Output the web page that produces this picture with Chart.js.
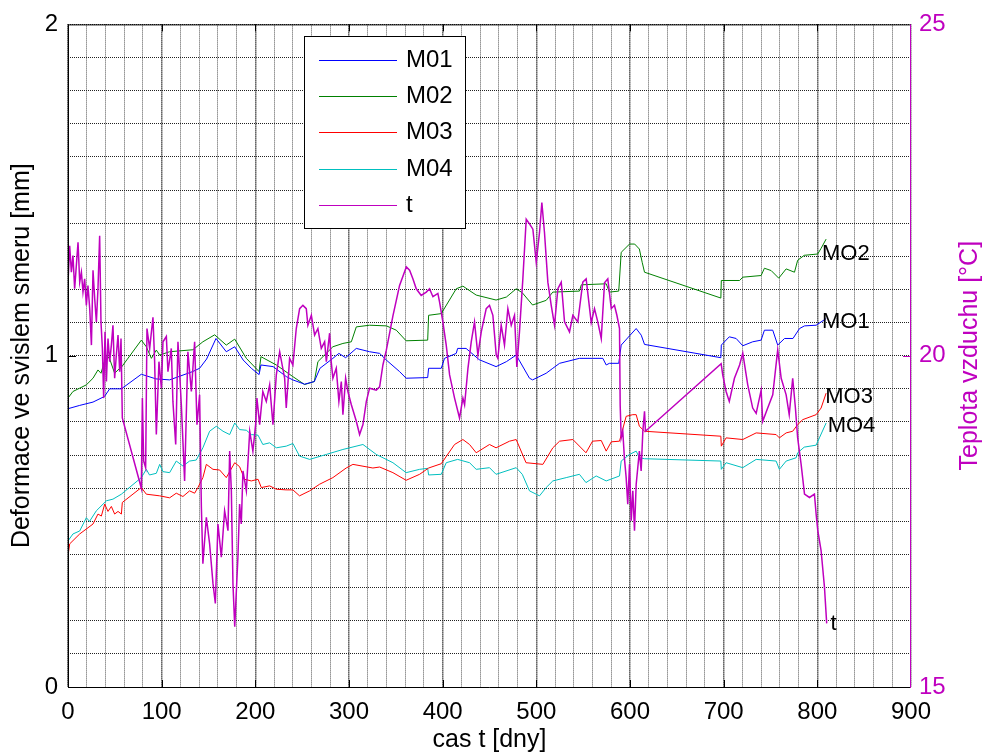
<!DOCTYPE html>
<html>
<head>
<meta charset="utf-8">
<script src="https://cdn.jsdelivr.net/npm/chart.js@4.4.0/dist/chart.umd.min.js"></script>
<style>
  html, body { margin: 0; padding: 0; background: #fff; }
  canvas { display: block; }
</style>
</head>
<body>
<canvas id="deformChart" width="987" height="753"></canvas>
<script>
// Deformace M01..M04 [mm], left axis
const m01Day = [0, 0, 12.5, 26.7, 39, 44.5, 57, 78.3, 94, 108.5, 133, 140.5, 148, 158, 169, 178, 187, 195.7, 204, 206, 219, 233, 240, 252.6, 263, 269, 282.8, 289.2, 296.4, 307.8, 322, 332.7, 339.8, 354, 361, 384, 385, 398.5, 402, 414.5, 416, 425, 439, 457, 468, 478.5, 492.7, 496, 510.5, 517.6, 524.8, 546, 560, 571, 574.6, 578, 588, 590.6, 599.5, 606.6, 612, 615.5, 697, 697.5, 706, 713.3, 720.4, 731, 740, 743.5, 752.4, 757.7, 765, 774, 781, 786.3, 798.7, 809.4];
const m01Val = [0, 0.84, 0.85, 0.86, 0.877, 0.9, 0.9, 0.944, 0.93, 0.927, 0.952, 0.962, 0.99, 1.052, 1.012, 1.027, 0.987, 0.962, 0.943, 0.972, 0.967, 0.937, 0.927, 0.914, 0.922, 0.962, 0.992, 1.007, 0.994, 1.022, 1.012, 1.007, 0.987, 0.952, 0.932, 0.934, 0.962, 0.962, 0.992, 1.007, 1.022, 1.022, 0.988, 0.967, 0.982, 1.002, 0.932, 0.927, 0.947, 0.962, 0.977, 0.992, 0.992, 0.992, 0.972, 0.977, 0.977, 1.032, 1.06, 1.082, 1.062, 1.034, 0.994, 1.032, 1.057, 1.052, 1.03, 1.042, 1.047, 1.077, 1.077, 1.032, 1.052, 1.052, 1.082, 1.09, 1.092, 1.112];

const m02Day = [0, 0, 5.3, 12.5, 19.6, 26.7, 32, 35.2, 41, 44.5, 49.8, 55.2, 57, 78.3, 83.6, 89, 94.3, 97.9, 108.5, 133.4, 144, 156.6, 169, 178, 190.4, 204, 206, 222.4, 240, 252.6, 263, 266.8, 282.8, 293.5, 302.5, 307.8, 322, 340, 350.5, 361, 384, 385, 398.5, 414.5, 421.6, 435.8, 457, 468, 478.5, 485, 496, 510.5, 517.6, 546, 548, 574.6, 578, 588, 590.6, 599.5, 605, 610, 613, 615.5, 697, 697.5, 717, 720.4, 740, 743.5, 750.7, 758.8, 766.7, 775.6, 779, 786, 800.4, 804, 809.4];
const m02Val = [0, 0.872, 0.892, 0.902, 0.912, 0.932, 0.957, 0.947, 1.002, 0.99, 0.947, 0.962, 0.965, 1.047, 1.027, 0.992, 1.017, 1.002, 1.012, 1.018, 1.042, 1.063, 1.032, 1.05, 0.992, 0.952, 0.997, 0.972, 0.937, 0.913, 0.922, 0.982, 1.027, 1.037, 1.042, 1.087, 1.092, 1.09, 1.077, 1.045, 1.047, 1.122, 1.127, 1.202, 1.21, 1.183, 1.168, 1.177, 1.202, 1.19, 1.153, 1.167, 1.192, 1.195, 1.214, 1.217, 1.192, 1.195, 1.312, 1.337, 1.337, 1.322, 1.282, 1.252, 1.174, 1.227, 1.227, 1.237, 1.242, 1.264, 1.257, 1.234, 1.262, 1.252, 1.288, 1.303, 1.307, 1.324, 1.352];

const m03Day = [0, 0, 1.8, 12.5, 26.7, 32, 35.6, 39.2, 42.7, 46.3, 49.8, 53.4, 57, 58, 78.3, 83.6, 97.9, 108.5, 115.6, 122.7, 129.8, 135.2, 138.7, 144, 147.7, 154.8, 161.9, 169, 178, 183.2, 188.6, 195.7, 202.9, 206.4, 215.3, 222.4, 233, 240.1, 247.2, 258, 268.6, 282.8, 297, 304.2, 325.5, 332.7, 346.9, 361, 375.4, 385, 398.5, 412.7, 421.6, 428.7, 435.8, 450, 457, 471.4, 478.5, 489, 507, 517.6, 524.8, 539, 553, 560, 569.3, 574.6, 580, 588.8, 595.9, 603, 606.6, 610, 615.5, 697, 697.5, 702.6, 720.4, 734.7, 756, 759.5, 766.7, 773.7, 779, 784.4, 798.7, 804, 809.4];
const m03Val = [0, 0.396, 0.432, 0.462, 0.492, 0.522, 0.516, 0.552, 0.53, 0.545, 0.522, 0.53, 0.522, 0.557, 0.602, 0.582, 0.577, 0.571, 0.585, 0.575, 0.592, 0.585, 0.602, 0.632, 0.672, 0.657, 0.655, 0.632, 0.677, 0.665, 0.627, 0.622, 0.627, 0.602, 0.607, 0.597, 0.595, 0.595, 0.577, 0.592, 0.612, 0.632, 0.661, 0.672, 0.661, 0.664, 0.647, 0.624, 0.642, 0.661, 0.674, 0.732, 0.747, 0.732, 0.707, 0.732, 0.722, 0.742, 0.747, 0.677, 0.672, 0.722, 0.742, 0.747, 0.707, 0.742, 0.744, 0.712, 0.74, 0.742, 0.817, 0.822, 0.822, 0.787, 0.772, 0.757, 0.727, 0.752, 0.747, 0.767, 0.762, 0.752, 0.767, 0.772, 0.792, 0.807, 0.822, 0.842, 0.887];

const m04Day = [0, 0, 5.3, 12.5, 19.6, 23, 30.3, 37.4, 41, 48, 57, 78.3, 83.6, 87, 94.3, 97.9, 101.4, 108.5, 115.6, 122.7, 129.8, 136.9, 144, 151.2, 158.3, 165.5, 172.6, 178, 183.2, 190.4, 195.7, 202.9, 208, 215.3, 222.4, 233, 240.1, 247.2, 258, 275.8, 293.5, 314.9, 329.1, 346.9, 361, 375.4, 384, 385, 398.5, 403.8, 416, 428.7, 435.8, 450, 457, 478.5, 485, 492.7, 503.4, 510.5, 517.6, 531.9, 546, 553, 563.9, 574.6, 588.8, 590.6, 599.5, 606.6, 610, 615.5, 697, 697.5, 702.6, 720.4, 734.7, 756, 759.5, 766.7, 777.4, 779, 786, 798.7, 802.2, 809.4];
const m04Val = [0, 0.441, 0.462, 0.471, 0.511, 0.5, 0.532, 0.552, 0.562, 0.567, 0.582, 0.632, 0.657, 0.64, 0.645, 0.672, 0.65, 0.647, 0.682, 0.667, 0.682, 0.685, 0.722, 0.772, 0.787, 0.772, 0.762, 0.797, 0.777, 0.775, 0.762, 0.76, 0.732, 0.737, 0.722, 0.727, 0.735, 0.697, 0.687, 0.702, 0.717, 0.732, 0.702, 0.677, 0.647, 0.657, 0.66, 0.64, 0.642, 0.677, 0.687, 0.677, 0.657, 0.662, 0.642, 0.662, 0.642, 0.592, 0.577, 0.602, 0.622, 0.632, 0.642, 0.617, 0.637, 0.622, 0.637, 0.682, 0.702, 0.712, 0.692, 0.689, 0.682, 0.657, 0.677, 0.662, 0.687, 0.682, 0.657, 0.682, 0.692, 0.707, 0.724, 0.73, 0.752, 0.797];

// Teplota vzduchu t [°C], right axis
const tDay = [0, 1.8, 3.6, 5.3, 7.1, 8.9, 10.7, 12.5, 14.3, 16, 17.8, 19.6, 21.3, 23.2, 25, 26.7, 28.5, 30.3, 32, 33.8, 35.2, 36.7, 38.1, 39.5, 41, 42.7, 44.5, 46.3, 48, 49.8, 51.6, 53.4, 55.2, 56.6, 58,
  78.3, 79.4, 80.8, 82.9, 84.3, 87.2, 90.7, 92.5, 94.3, 97.1, 99.7, 101.4, 105, 106.7, 110.3, 112, 115, 117.4, 121, 124.5, 128, 131.7, 135.2, 137.7, 140.5, 142.4, 144, 147.7, 151.2, 154.8, 157.3, 160.1, 163.7, 167.2, 170.8, 172.6, 174.4, 176.1, 178, 181.4, 183.2, 185, 186.8, 190.4, 194, 197.4, 200.3, 201.7, 204.6, 208, 211.7, 215.3, 218.8, 222.4, 226, 231.3, 233, 236.6, 240.1, 243.7, 247.3, 250.8, 254.4, 256.1, 259.8, 263.3, 266.8, 270.4, 274, 275.8, 279.3, 281, 282.8, 286.4, 289.2, 291.8, 293.5, 296.4, 298.8, 302.5, 307.8, 311.3, 314.9, 318.5, 322, 329.1, 332.7, 336.2, 339.8, 346.9, 354, 361.2, 364.7, 368.2, 371.8, 377.1, 382.5, 386, 389.6, 394.9, 396.7, 400.2, 403.8, 407.4, 412.7, 418, 421.6, 423.4, 427, 430.5, 434, 437.6, 441.2, 446.5, 450, 453.6, 457.2, 458.9, 462.5, 466, 469.6, 473.2, 476.7, 479.2, 482, 485.6, 489.2, 492.7, 496.3, 499.9, 503.4, 505.9, 508.7, 512.3, 515.9, 519.4, 523, 526.6, 530.1, 535.4, 539, 544.3, 549.6, 553.2, 558.6, 562.1, 565.6, 569.3, 572.8, 576.3, 580, 583.4, 586, 588.8, 589.5, 590.6, 592.3, 594, 595.9, 597.6, 599.5, 601.3, 603, 604.8, 606.6, 610, 611.9, 613.7, 615.5, 616.5,
  697.3, 699, 702.6, 706, 711.5, 717, 720.4, 725.7, 731, 734.7, 740, 741.7, 747, 752.4, 757.7, 761.4, 766.7, 770, 773.7, 776.6, 779, 782.7, 786.3, 791.6, 796.9, 798.7, 800.5, 804, 807.6, 810];
const tVal = [21.11, 21.66, 21.26, 21.51, 21.01, 21.36, 21.71, 21.11, 21.26, 20.96, 21.16, 20.76, 21.06, 20.71, 20.16, 21.29, 20.86, 20.51, 21.01, 21.81, 20.51, 20.11, 19.36, 20.36, 19.61, 20.26, 19.91, 20.16, 20.46, 19.66, 20.01, 20.31, 19.76, 20.26, 19.06,
  18.0, 19.36, 18.41, 18.31, 20.41, 20.11, 20.58, 19.91, 18.81, 19.91, 19.51, 20.21, 20.29, 19.76, 20.11, 19.31, 18.66, 20.21, 19.26, 18.11, 20.06, 19.46, 20.21, 18.96, 19.41, 17.71, 16.86, 17.56, 17.16, 16.56, 16.26, 17.46, 16.96, 17.66, 17.36, 18.56, 17.96, 16.56, 15.91, 16.96, 17.76, 17.46, 18.26, 17.96, 18.86, 18.56, 18.96, 19.36, 18.96, 19.46, 19.31, 19.56, 18.96, 19.71, 20.06, 19.66, 19.21, 19.96, 19.86, 20.41, 20.71, 20.76, 20.71, 20.46, 20.61, 20.31, 20.41, 20.11, 20.21, 19.91, 20.34, 19.91, 19.66, 19.81, 19.31, 19.61, 19.11, 19.66, 19.46, 19.26, 19.01, 18.81, 18.96, 19.31, 19.51, 19.48, 19.53, 19.86, 20.08, 20.6, 21.06, 21.34, 21.29, 21.16, 21.01, 20.91, 20.96, 21.01, 20.89, 20.94, 20.81, 20.51, 20.16, 19.71, 19.36, 19.06, 19.36, 19.26, 19.81, 20.21, 20.51, 20.01, 20.36, 20.71, 20.76, 20.61, 20.01, 19.96, 20.46, 20.16, 20.71, 20.46, 20.61, 19.83, 20.36, 21.16, 22.06, 21.99, 21.91, 21.41, 21.86, 22.31, 21.86, 21.11, 20.76, 20.46, 21.01, 21.11, 20.51, 20.36, 20.61, 20.51, 21.11, 21.16, 20.5, 20.71, 20.51, 20.26, 21.1, 21.16, 20.71, 20.76, 20.61, 20.41, 19.26, 18.76, 18.86, 18.46, 18.16, 17.76, 18.36, 17.51, 17.96, 17.36, 18.06, 18.56, 18.26, 18.86, 19.16, 18.86,
  19.88, 19.71, 19.46, 19.31, 19.66, 19.86, 20.04, 19.56, 19.21, 19.13, 19.48, 19.01, 19.21, 19.41, 20.09, 19.66, 19.41, 19.11, 19.66, 19.21, 18.76, 18.36, 17.91, 17.86, 17.91, 17.61, 17.36, 17.06, 16.51, 15.96];

// text labels at the line ends
const endLabels = [
  { text: 'MO2', x: 805, y: 1.307 },
  { text: 'MO1', x: 805, y: 1.102 },
  { text: 'MO3', x: 808.5, y: 0.875 },
  { text: 'MO4', x: 811, y: 0.787 },
  { text: 't', x: 814, y: 0.19 }
];

const MAGENTA = '#bf00bf';
const toPoints = (days, vals) => days.map((d, i) => ({ x: d, y: vals[i] }));

Chart.defaults.font.family = "'Liberation Sans', Arial, sans-serif";
Chart.defaults.color = '#000';

// box round the plot with inward ticks
const framePlugin = {
  id: 'frame',
  afterDraw(chart) {
    const { ctx, chartArea: a, scales } = chart;
    ctx.save();
    ctx.lineWidth = 1;
    ctx.strokeStyle = '#000';
    ctx.beginPath();
    ctx.moveTo(a.right, a.top + 0.5);
    ctx.lineTo(a.left + 0.5, a.top + 0.5);
    ctx.lineTo(a.left + 0.5, a.bottom + 0.5);
    ctx.lineTo(a.right, a.bottom + 0.5);
    ctx.stroke();
    for (let v = 100; v < 900; v += 100) {
      const px = Math.round(scales.x.getPixelForValue(v)) + 0.5;
      ctx.beginPath();
      ctx.moveTo(px, a.bottom); ctx.lineTo(px, a.bottom - 7);
      ctx.moveTo(px, a.top); ctx.lineTo(px, a.top + 7);
      ctx.stroke();
    }
    [1].forEach(v => {
      const py = Math.round(scales.y.getPixelForValue(v)) + 0.5;
      ctx.beginPath();
      ctx.moveTo(a.left, py); ctx.lineTo(a.left + 8, py);
      ctx.stroke();
    });
    ctx.strokeStyle = MAGENTA;
    ctx.beginPath();
    ctx.moveTo(a.right - 0.5, a.top); ctx.lineTo(a.right - 0.5, a.bottom + 1);
    ctx.stroke();
    [20].forEach(v => {
      const py = Math.round(scales.y2.getPixelForValue(v)) + 0.5;
      ctx.beginPath();
      ctx.moveTo(a.right, py); ctx.lineTo(a.right - 8, py);
      ctx.stroke();
    });
    ctx.restore();
  }
};

// curve names, right axis title and legend box
const textPlugin = {
  id: 'texts',
  afterDraw(chart) {
    const { ctx, chartArea: a, scales } = chart;
    ctx.save();
    ctx.font = "22px 'Liberation Sans', Arial, sans-serif";
    ctx.fillStyle = '#000';
    ctx.textAlign = 'left';
    ctx.textBaseline = 'middle';
    endLabels.forEach(l => {
      ctx.fillText(l.text, scales.x.getPixelForValue(l.x), scales.y.getPixelForValue(l.y));
    });

    ctx.save();
    ctx.translate(970, (a.top + a.bottom) / 2);
    ctx.rotate(-Math.PI / 2);
    ctx.textAlign = 'center';
    ctx.fillStyle = MAGENTA;
    ctx.font = "25px 'Liberation Sans', Arial, sans-serif";
    ctx.fillText('Teplota vzduchu [°C]', 0, 0);
    ctx.restore();

    const bx = 304.5, by = 36.5, bw = 161, bh = 192;
    ctx.fillStyle = '#fff';
    ctx.fillRect(bx, by, bw, bh);
    ctx.strokeStyle = '#000';
    ctx.lineWidth = 1;
    ctx.strokeRect(bx, by, bw, bh);
    ctx.font = "24px 'Liberation Sans', Arial, sans-serif";
    chart.data.datasets.forEach((ds, i) => {
      const y = Math.round(60 + i * 36.2) + 0.5;
      ctx.strokeStyle = ds.borderColor;
      ctx.beginPath();
      ctx.moveTo(319, y); ctx.lineTo(397, y);
      ctx.stroke();
      ctx.fillStyle = '#000';
      ctx.fillText(ds.label, 406, y);
    });
    ctx.restore();
  }
};

const ctx = document.getElementById('deformChart').getContext('2d');
new Chart(ctx, {
  type: 'line',
  data: {
    datasets: [
      { label: 'M01', data: toPoints(m01Day, m01Val), borderColor: '#0000ff', yAxisID: 'y', order: 1 },
      { label: 'M02', data: toPoints(m02Day, m02Val), borderColor: '#008000', yAxisID: 'y', order: 2 },
      { label: 'M03', data: toPoints(m03Day, m03Val), borderColor: '#ff0000', yAxisID: 'y', order: 3 },
      { label: 'M04', data: toPoints(m04Day, m04Val), borderColor: '#00bfbf', yAxisID: 'y', order: 4 },
      { label: 't', data: toPoints(tDay, tVal), borderColor: MAGENTA, yAxisID: 'y2', order: 0, borderWidth: 1.5 }
    ]
  },
  options: {
    responsive: false,
    animation: false,
    devicePixelRatio: 1,
    layout: { padding: { top: 21, left: 0, right: 0, bottom: 0 } },
    elements: {
      point: { radius: 0 },
      line: { borderWidth: 1, tension: 0 }
    },
    plugins: {
      legend: { display: false },
      tooltip: { enabled: false }
    },
    scales: {
      x: {
        type: 'linear',
        min: 0,
        max: 900,
        ticks: {
          stepSize: 20,
          maxTicksLimit: 100,
          autoSkip: false,
          maxRotation: 0,
          padding: 11,
          font: { size: 24 },
          callback: v => (Math.round(v) % 100 === 0 ? Math.round(v) : '')
        },
        grid: {
          drawTicks: false,
          color: c => (Math.round(c.tick.value) % 100 === 0 ? '#000' : '#555'),
          lineWidth: c => (Math.round(c.tick.value) % 100 === 0 ? 1.5 : 1)
        },
        border: { display: false, dash: [1, 1] },
        title: { display: true, text: 'cas t [dny]', font: { size: 25, lineHeight: 1 }, padding: { top: 0, bottom: 0.5 } },
        afterFit: s => { s.height = 66; }
      },
      y: {
        position: 'left',
        min: 0,
        max: 2,
        ticks: {
          stepSize: 0.1,
          maxTicksLimit: 100,
          padding: 10,
          font: { size: 24 },
          callback: v => (Math.abs(v - Math.round(v)) < 1e-6 ? Math.round(v) : '')
        },
        grid: { drawTicks: false, color: '#222', lineWidth: 1 },
        border: { display: false, dash: [1, 1] },
        title: { display: true, text: 'Deformace ve svislem smeru [mm]', font: { size: 25, lineHeight: 1 }, padding: { top: 10, bottom: 0 } },
        afterFit: s => { s.width = 68; }
      },
      y2: {
        position: 'right',
        min: 15,
        max: 25,
        ticks: { stepSize: 5, padding: 8, color: MAGENTA, font: { size: 24 } },
        grid: { display: false, drawTicks: false },
        border: { display: false },
        afterFit: s => { s.width = 76; }
      }
    }
  },
  plugins: [framePlugin, textPlugin]
});
</script>
</body>
</html>
